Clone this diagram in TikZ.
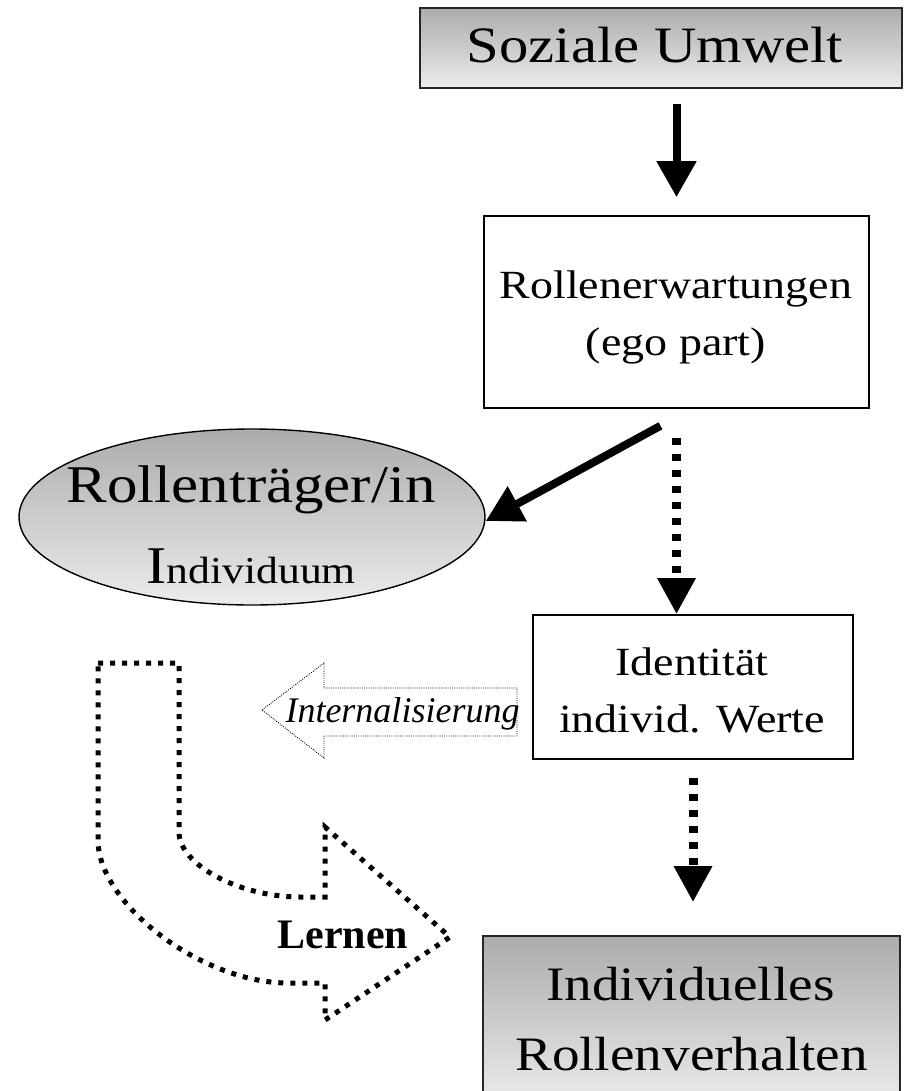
\documentclass[tikz,border=0pt]{standalone}
\usepackage{fontspec}
\setmainfont{Liberation Serif}[FakeStretch=1.15]
\newfontfamily\tnr{Liberation Serif}
\usetikzlibrary{arrows.meta,shapes.geometric}
\definecolor{gtop}{RGB}{172,172,172}
\definecolor{gbot}{RGB}{236,236,236}
\tikzset{
  graybox/.style={draw=black!85, line width=1.6pt, top color=gtop, bottom color=gbot, inner sep=0pt},
  whitebox/.style={draw=black, line width=1.6pt, fill=white, inner sep=0pt},
  txt/.style={anchor=base, inner sep=0pt},
  bigarrow/.style={line width=8pt, -{Triangle[length=36pt,width=38pt]}},
  dotarrow/.style={line width=9pt, dash pattern=on 7pt off 9pt, -{Triangle[length=36pt,width=36pt]}},
  thindots/.style={line width=0.9pt, dash pattern=on 0.9pt off 1.3pt},
  thickdots/.style={line width=5pt, dash pattern=on 5pt off 7pt},
}
\begin{document}
\begin{tikzpicture}[x=1pt,y=-1pt]
\useasboundingbox (0,0) rectangle (905,1091);

% boxes
\node[graybox, minimum width=482pt, minimum height=80pt] (soz) at (661,48) {};
\node[txt, font=\fontsize{51}{60}\selectfont] (sozt) at (655,63) {Soziale Umwelt};

\node[whitebox, minimum width=385pt, minimum height=192pt] (rolle) at (676.5,312) {};
\node[txt, font=\fontsize{40}{57}\selectfont] (rollet1) at (676,298) {Rollenerwartungen};
\node[txt, font=\fontsize{40}{57}\selectfont] (rollet2) at (676,355) {(ego part)};

\node[ellipse, draw=black, line width=1.4pt, top color=gtop, bottom color=gbot,
      minimum width=466pt, minimum height=176pt, inner sep=0pt] (ell) at (252,517) {};
\node[txt, font=\fontsize{53}{60}\selectfont] (ellt1) at (251,502) {Rollenträger/in};
\node[txt, font=\fontsize{53}{60}\selectfont] (ellt2) at (251,583) {I\fontsize{38}{44}\selectfont ndividuum};

\node[whitebox, minimum width=320pt, minimum height=144pt] (ident) at (693,687) {};
\node[txt, font=\fontsize{40}{57}\selectfont] (identt1) at (692,675) {Identität};
\node[txt, font=\fontsize{40}{57}\selectfont] (identt2) at (692,732) {individ. Werte};

\node[graybox, minimum width=417pt, minimum height=170pt] (indiv) at (691.5,1021) {};
\node[txt, font=\fontsize{48}{60}\selectfont] (indivt1) at (690.5,1000) {Individuelles};
\node[txt, font=\fontsize{48}{60}\selectfont] (indivt2) at (691.5,1070) {Rollenverhalten};

% connectors
\draw[bigarrow] ([yshift=-15pt]soz.south -| rolle.north) -- ([yshift=18pt]rolle.north);
\draw[bigarrow] ([xshift=-16pt,yshift=-17pt]rolle.south) -- ([yshift=-4pt]ell.east);
\draw[dotarrow] ([yshift=-29pt]rolle.south) -- (ident.north -| rolle.south);
\draw[dotarrow] ([yshift=-18pt]ident.south) -- ([yshift=33pt]indiv.north -| ident.south);

% Internalisierung block arrow
\draw[thindots] (262,710) -- (324,663) -- (324,688) -- (517,688) -- (517,736) -- (324,736) -- (324,758) -- cycle;
\node[txt, font=\tnr\itshape\fontsize{36}{40}\selectfont] (intt) at (402.5,722) {Internalisierung};

% Lernen U-arrow
\draw[thickdots] (98,663) -- (179,663) -- (179,832)
   .. controls (179,865) and (240,897) .. (300,897) -- (325,897) -- (325,827)
   -- (450,937) -- (325,1020) -- (325,983) -- (288,983)
   .. controls (202,983) and (98,904) .. (98,840) -- cycle;
\node[txt, font=\tnr\bfseries\fontsize{42}{46}\selectfont] (lern) at (343,948) {Lernen};
\end{tikzpicture}
\end{document}
